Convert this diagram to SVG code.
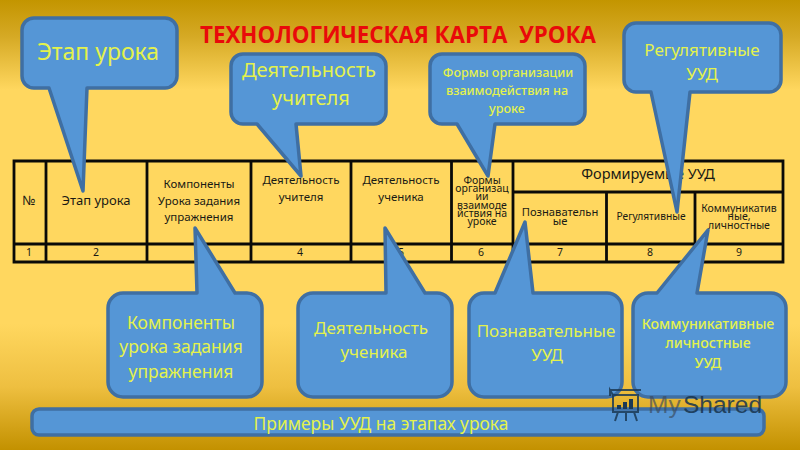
<svg xmlns="http://www.w3.org/2000/svg" width="800" height="450" viewBox="0 0 800 450">
<style>
text{font-family:"Noto Sans","DejaVu Sans",sans-serif;text-anchor:middle}
.c{fill:#5596D6;stroke:#3F6FA3;stroke-width:3.500;stroke-linejoin:round}
.y{fill:#E4F24C}
.t{fill:#1a1a14;font-size:11.500px}
.s{font-size:10.500px}
.g{stroke:#0a0a08;stroke-width:2.800;fill:none}
</style>
<defs>
<linearGradient id="bg" x1="0" y1="0" x2="0" y2="1">
<stop offset="0" stop-color="#C39500"/>
<stop offset=".08" stop-color="#D5A924"/>
<stop offset=".2" stop-color="#FFD75F"/>
<stop offset=".72" stop-color="#FFD75F"/>
<stop offset=".86" stop-color="#EEBF40"/>
<stop offset="1" stop-color="#C39100"/>
</linearGradient>
</defs>
<rect width="800" height="450" fill="url(#bg)"/>
<text x="398" y="43" font-size="24" font-weight="700" fill="#E90A0A" style="font-family:'Open Sans','Noto Sans',sans-serif;white-space:pre" textLength="396" lengthAdjust="spacingAndGlyphs">ТЕХНОЛОГИЧЕСКАЯ КАРТА  УРОКА</text>
<g id="table">
<path class="g" d="M14 161H783V262H14ZM14 244H783M46 161V262M147 161V262M251 161V262M351 161V262M451.500 161V262M513 161V262M606.500 192V262M695 192V262M513 192H783"/>
<text class="t" style="font-size:13px" x="29" y="205">№</text>
<text class="t" style="font-size:13px" x="96" y="205">Этап урока</text>
<text class="t" x="199" y="188">Компоненты</text>
<text class="t" x="199" y="205">Урока задания</text>
<text class="t" x="199" y="221">упражнения</text>
<text class="t" x="301" y="184">Деятельность</text>
<text class="t" x="301" y="201">учителя</text>
<text class="t" x="401" y="184">Деятельность</text>
<text class="t" x="401" y="201">ученика</text>
<text class="t s" x="482" y="184">Формы</text>
<text class="t s" x="482" y="192">организац</text>
<text class="t s" x="482" y="200">ии</text>
<text class="t s" x="482" y="208.500">взаимоде</text>
<text class="t s" x="482" y="216.500">йствия на</text>
<text class="t s" x="482" y="225">уроке</text>
<text class="t" style="font-size:14.500px" x="648" y="179">Формируемые УУД</text>
<text class="t" style="font-size:11.200px" x="560" y="216">Познавательн</text>
<text class="t" style="font-size:11.200px" x="560" y="225">ые</text>
<text class="t" style="font-size:10.200px" x="651" y="220">Регулятивные</text>
<text class="t s" x="739" y="212">Коммуникатив</text>
<text class="t s" x="739" y="220">ные,</text>
<text class="t s" x="739" y="229">личностные</text>
<text class="t s" x="29" y="256">1</text>
<text class="t s" x="96" y="256">2</text>
<text class="t s" x="300" y="256">4</text>
<text class="t s" x="401" y="256">5</text>
<text class="t s" x="481" y="256">6</text>
<text class="t s" x="560" y="256">7</text>
<text class="t s" x="650" y="256">8</text>
<text class="t s" x="739" y="256">9</text>
</g>
<g id="connectors"></g>
<g id="n-etap">
<path class="c" d="M34 18H165A12 12 0 0 1 177 30V76A12 12 0 0 1 165 88H87L83 191L49 88H34A12 12 0 0 1 22 76V30A12 12 0 0 1 34 18Z"/>
<text class="y" x="98" y="60" font-size="23">Этап урока</text>
</g>
<g id="n-uchitel">
<path class="c" d="M243 54H374A12 12 0 0 1 386 66V112A12 12 0 0 1 374 124H296L301 176L257 124H243A12 12 0 0 1 231 112V66A12 12 0 0 1 243 54Z"/>
<text class="y" x="309" y="77" font-size="20">Деятельность</text>
<text class="y" x="311" y="105" font-size="20">учителя</text>
</g>
<g id="n-formy">
<path class="c" d="M442 54H573A12 12 0 0 1 585 66V112A12 12 0 0 1 573 124H495L488 176L457 124H442A12 12 0 0 1 430 112V66A12 12 0 0 1 442 54Z"/>
<text class="y" x="508" y="77" font-size="12.600" font-weight="500">Формы организации</text>
<text class="y" x="507" y="95" font-size="12.600" font-weight="500">взаимодействия на</text>
<text class="y" x="507" y="113" font-size="12.600" font-weight="500">уроке</text>
</g>
<g id="n-regul">
<path class="c" d="M636 23H769A12 12 0 0 1 781 35V80A12 12 0 0 1 769 92H690L677 212L651 92H636A12 12 0 0 1 624 80V35A12 12 0 0 1 636 23Z"/>
<text class="y" x="702" y="56" font-size="17">Регулятивные</text>
<text class="y" x="702" y="80" font-size="17">УУД</text>
</g>
<g id="n-komp">
<path class="c" d="M197 293L195 228L235 293H247A15 15 0 0 1 262 308V382A15 15 0 0 1 247 397H123A15 15 0 0 1 108 382V308A15 15 0 0 1 123 293Z"/>
<text class="y" x="181" y="329" font-size="17.500">Компоненты</text>
<text class="y" x="181" y="353" font-size="17.500">урока задания</text>
<text class="y" x="181" y="378" font-size="17.500">упражнения</text>
</g>
<g id="n-uchenik">
<path class="c" d="M386 293L385 228L425 293H437A15 15 0 0 1 452 308V382A15 15 0 0 1 437 397H313A15 15 0 0 1 298 382V308A15 15 0 0 1 313 293Z"/>
<text class="y" x="371" y="334" font-size="17">Деятельность</text>
<text class="y" x="374" y="358" font-size="17">ученика</text>
</g>
<g id="n-pozn">
<path class="c" d="M495 293L525 222L533 293H607A15 15 0 0 1 622 308V382A15 15 0 0 1 607 397H484A15 15 0 0 1 469 382V308A15 15 0 0 1 484 293Z"/>
<text class="y" x="546" y="337" font-size="17">Познавательные</text>
<text class="y" x="547" y="361" font-size="17">УУД</text>
</g>
<g id="n-komm">
<path class="c" d="M657 293L708 230L697 293H771A15 15 0 0 1 786 308V382A15 15 0 0 1 771 397H648A15 15 0 0 1 633 382V308A15 15 0 0 1 648 293Z"/>
<text class="y" x="708" y="329" font-size="14.200" font-weight="500">Коммуникативные</text>
<text class="y" x="708" y="348" font-size="14.200" font-weight="500">личностные</text>
<text class="y" x="708" y="368" font-size="14.200" font-weight="500">УУД</text>
</g>
<g id="n-primery">
<rect class="c" x="32" y="409" width="732" height="26" rx="7"/>
<text class="y" x="381" y="430" font-size="17.400">Примеры УУД на этапах урока</text>
</g>
<g id="watermark">
<g fill="none" stroke="#1B3A55" stroke-width="2" opacity=".85">
<path d="M610 390H641M613 395H638V412H613ZM613 395L610 390V396M618 412L615 421M626 412V421M634 412L637 421"/>
</g>
<path d="M617 409h4v-4h-4zM623 409h4v-7h-4zM629 409h4v-10h-4z" fill="#1B3A55"/>
<text x="648" y="413" font-size="24.500" fill="#3A4A5C" opacity=".65" style="font-family:'Liberation Sans',sans-serif;text-anchor:start">My</text>
<text x="683" y="413" font-size="24.500" fill="#17344E" opacity=".85" style="font-family:'Liberation Sans',sans-serif;text-anchor:start">Shared</text>
</g>
</svg>
